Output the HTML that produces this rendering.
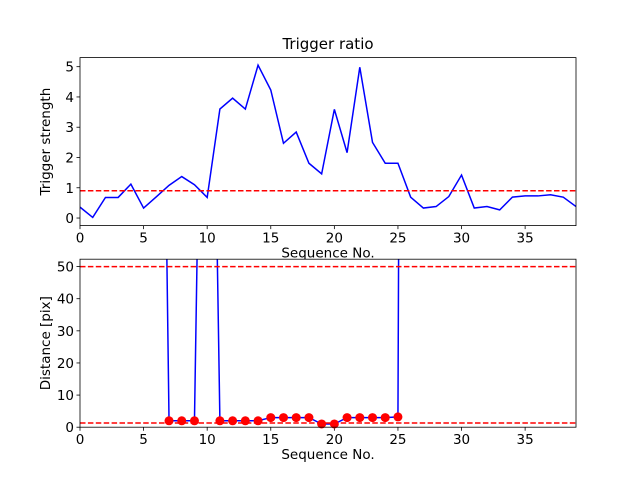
<!DOCTYPE html>
<html><head><meta charset="utf-8"><style>body{margin:0;background:#fff}svg{display:block;font-family:"DejaVu Sans","Liberation Sans",sans-serif}</style></head>
<body>
<svg id="c" width="640" height="480" xmlns="http://www.w3.org/2000/svg"></svg>
<script>
const seq = [];
for (let i = 0; i < 40; i++) seq.push(i);
const strength = [0.36,0.02,0.68,0.68,1.12,0.33,0.7,1.08,1.37,1.1,0.68,3.6,3.96,3.6,5.05,4.23,2.47,2.84,1.81,1.46,3.59,2.16,4.98,2.5,1.81,1.81,0.69,0.33,0.38,0.71,1.42,0.33,0.38,0.27,0.69,0.73,0.73,0.77,0.69,0.38];
const strengthThreshold = 0.9;
const distance = [300,300,300,300,300,300,300,2,2,2,250,2,2,2,2,3,3,3,3,1,1,3,3,3,3,3.2,1000,1000,1000,1000,1000,1000,1000,1000,1000,1000,1000,1000,1000,1000];
const distanceValid = [0,0,0,0,0,0,0,1,1,1,0,1,1,1,1,1,1,1,1,1,1,1,1,1,1,1,0,0,0,0,0,0,0,0,0,0,0,0,0,0];
const distLines = [1.3, 50];
const xTicks = [0,5,10,15,20,25,30,35];
const yTicksTop = [0,1,2,3,4,5];
const yTicksBot = [0,10,20,30,40,50];

const svg = document.getElementById('c');
const NS = 'http://www.w3.org/2000/svg';
function mk(tag, attrs, parent, name) {
  const e = document.createElementNS(NS, tag);
  for (const k in attrs) e.setAttribute(k, attrs[k]);
  
  
  (parent || svg).appendChild(e);
  return e;
}
const L = 80, R = 576;
const sx = v => L + (v - 0) / 39 * (R - L);

function panel(pTop, pBot, ymin, ymax, yt, ylabel, id) {
  const sy = v => pBot - (v - ymin) / (ymax - ymin) * (pBot - pTop);
  mk('rect', {x: L, y: pTop, width: R - L, height: pBot - pTop, fill: '#fff'}, svg, id + '-background');
  const cp = mk('clipPath', {id: id + 'clip'}, svg, id + '-clip');
  const cr = document.createElementNS(NS, 'rect');
  cr.setAttribute('x', L); cr.setAttribute('y', pTop); cr.setAttribute('width', R - L); cr.setAttribute('height', pBot - pTop);
  cp.appendChild(cr);
  const g = mk('g', {'clip-path': 'url(#' + id + 'clip)'}, svg, id + '-plot-area');
  xTicks.forEach(t => {
    mk('line', {x1: sx(t), x2: sx(t), y1: pBot, y2: pBot + 3.5, stroke: '#000', 'stroke-width': 0.8}, svg, 'x-tick');
    const tx = mk('text', {x: sx(t), y: pBot + 17, 'font-size': 13.5, 'text-anchor': 'middle', fill: '#000'}, svg, 'x-tick-label');
    tx.textContent = t;
  });
  yt.forEach(t => {
    mk('line', {x1: L - 3.5, x2: L, y1: sy(t), y2: sy(t), stroke: '#000', 'stroke-width': 0.8}, svg, 'y-tick');
    const tx = mk('text', {x: L - 6, y: sy(t) + 5, 'font-size': 13.5, 'text-anchor': 'end', fill: '#000'}, svg, 'y-tick-label');
    tx.textContent = t;
  });
  const xl = mk('text', {x: (L + R) / 2, y: pBot + 32, 'font-size': 13.5, 'text-anchor': 'middle', fill: '#000'}, svg, 'x-axis-title');
  xl.textContent = 'Sequence No.';
  const yl = mk('text', {x: 0, y: 0, 'font-size': 13.5, 'text-anchor': 'middle', fill: '#000', transform: 'translate(' + (L - 30) + ',' + ((pTop + pBot) / 2) + ') rotate(-90)'}, svg, 'y-axis-title');
  yl.textContent = ylabel;
  return {sy, g};
}

const topP = panel(57.6, 225.6, -0.25, 5.3, yTicksTop, 'Trigger strength', 'top');
mk('polyline', {points: seq.map((s, i) => sx(s) + ',' + topP.sy(strength[i])).join(' '), fill: 'none', stroke: '#0000ff', 'stroke-width': 1.5}, topP.g, 'trigger-strength-line');
mk('line', {x1: L, x2: R, y1: topP.sy(strengthThreshold), y2: topP.sy(strengthThreshold), stroke: '#ff0000', 'stroke-width': 1.5, 'stroke-dasharray': '5.5,2.4'}, topP.g, 'strength-threshold-line');
mk('rect', {x: L, y: 57.6, width: R - L, height: 168, fill: 'none', stroke: '#000', 'stroke-width': 0.8}, svg, 'top-frame');
const title = mk('text', {x: (L + R) / 2, y: 49, 'font-size': 15, 'text-anchor': 'middle', fill: '#000'}, svg, 'chart-title');
title.textContent = 'Trigger ratio';

const botP = panel(259.2, 427.2, 0, 52.3, yTicksBot, 'Distance [pix]', 'bottom');
mk('polyline', {points: seq.map((s, i) => sx(s) + ',' + botP.sy(distance[i])).join(' '), fill: 'none', stroke: '#0000ff', 'stroke-width': 1.5}, botP.g, 'distance-line');
distLines.forEach(v => mk('line', {x1: L, x2: R, y1: botP.sy(v), y2: botP.sy(v), stroke: '#ff0000', 'stroke-width': 1.5, 'stroke-dasharray': '5.5,2.4'}, botP.g, 'distance-limit-line'));
seq.forEach((s, i) => {
  if (distanceValid[i]) mk('circle', {cx: sx(s), cy: botP.sy(distance[i]), r: 4.5, fill: '#ff0000'}, svg, 'distance-point');
});
mk('rect', {x: L, y: 259.2, width: R - L, height: 168, fill: 'none', stroke: '#000', 'stroke-width': 0.8}, svg, 'bottom-frame');
</script>
</body></html>
